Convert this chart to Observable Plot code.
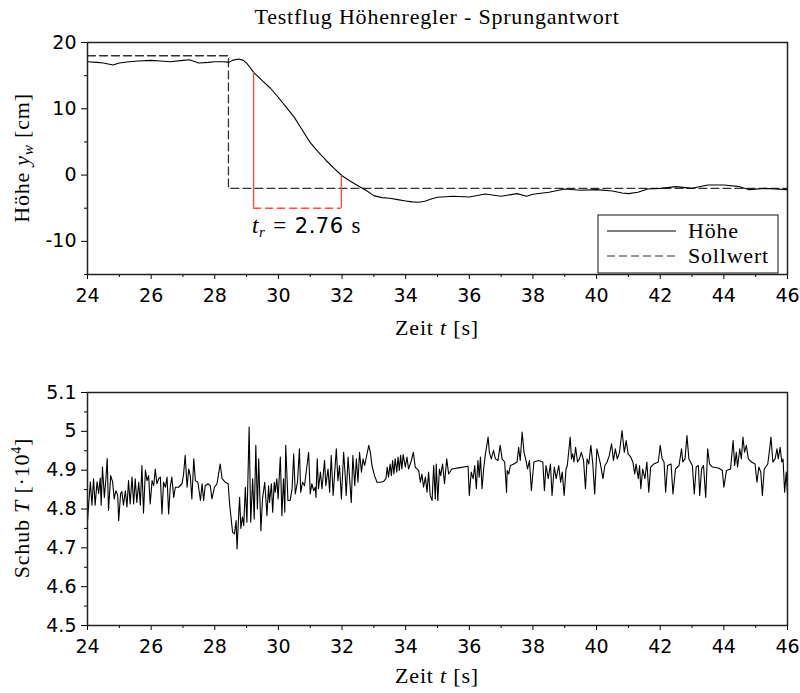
<!DOCTYPE html>
<html><head><meta charset="utf-8">
<script src="https://cdn.jsdelivr.net/npm/d3@7"></script>
<script src="https://cdn.jsdelivr.net/npm/@observablehq/plot@0.6"></script>
<style>
body{margin:0;background:#fff;}
#wrap{position:relative;width:800px;height:693px;}
#wrap svg{position:absolute;left:0;}
</style></head><body><div id="wrap"></div>
<script>
const title = "Testflug Höhenregler - Sprungantwort";
const xMajor = [24,26,28,30,32,34,36,38,40,42,44,46];
const xMinor = [25,27,29,31,33,35,37,39,41,43,45];
const yTopMajor = [-10,0,10,20];
const yTopMinor = [-15,-5,5,15];
const yBotMajor = [4.5,4.6,4.7,4.8,4.9,5,5.1];
const yBotMinor = [4.55,4.65,4.75,4.85,4.95,5.05];
const legendNames = ["Höhe","Sollwert"];

// Höhe (cm)
const hoeheT = [24.0,24.3,24.5,24.8,25.0,25.3,25.6,26.0,26.3,26.6,27.0,27.2,27.5,27.8,28.0,28.3,28.45,28.55,28.75,28.9,29.0,29.1,29.22,29.5,29.75,30.0,30.25,30.5,30.75,31.0,31.25,31.5,31.75,32.0,32.25,32.5,32.75,33.0,33.25,33.5,33.75,34.0,34.2,34.4,34.6,34.8,35.0,35.5,36.0,36.5,37.0,37.5,37.8,38.0,38.5,39.0,39.5,40.0,40.5,40.8,41.0,41.3,41.6,42.0,42.5,43.0,43.5,44.0,44.5,44.8,45.3,45.6,46.0];
const hoeheV = [17.1,17.0,16.9,16.6,16.9,17.1,17.2,17.3,17.2,17.1,17.3,17.4,16.9,17.0,17.1,17.1,17.0,17.3,17.5,17.3,16.9,16.3,15.5,14.2,13.1,11.7,10.2,8.7,6.8,4.9,3.5,2.2,1.0,-0.1,-0.9,-1.6,-2.3,-3.1,-3.4,-3.5,-3.7,-3.9,-4.05,-4.1,-3.95,-3.6,-3.35,-3.2,-3.3,-2.85,-3.2,-2.8,-3.2,-2.9,-2.6,-2.1,-2.3,-2.2,-2.4,-2.7,-2.8,-2.6,-2.1,-2.0,-1.75,-2.0,-1.5,-1.5,-1.75,-2.2,-2.0,-2.1,-2.2];
// Sollwert (cm)
const sollT = [24, 28.43, 28.43, 46];
const sollV = [18, 18, -2, -2];
// Anstiegszeit
const riseStart = 29.22, riseEnd = 31.98, riseLow = -5;
const riseStartV = 15.5, riseEndV = -0.1;
const riseLabel = "2.76";

// Schub (·10^4)
const schubT = [24.00,24.09,24.14,24.19,24.24,24.30,24.35,24.40,24.43,24.47,24.53,24.58,24.62,24.66,24.73,24.79,24.84,24.89,24.95,24.98,25.04,25.08,25.13,25.19,25.24,25.29,25.34,25.40,25.45,25.50,25.55,25.61,25.66,25.71,25.76,25.82,25.87,25.92,25.97,26.03,26.08,26.13,26.18,26.24,26.29,26.34,26.39,26.45,26.50,26.55,26.60,26.65,26.71,26.76,26.86,26.97,27.02,27.07,27.13,27.18,27.23,27.28,27.34,27.39,27.47,27.55,27.60,27.65,27.70,27.79,27.86,27.91,27.99,28.07,28.17,28.23,28.33,28.42,28.47,
28.56,28.62,28.67,28.70,28.75,28.78,28.82,28.87,28.91,28.96,29.01,29.08,29.13,29.19,29.24,29.29,29.34,29.38,29.45,29.50,29.57,29.64,29.69,29.72,29.78,29.82,29.87,29.90,29.95,29.99,30.06,30.11,30.16,30.20,30.23,30.30,30.37,30.43,30.48,30.53,30.60,30.66,30.70,30.76,30.82,30.95,31.00,31.05,31.11,31.16,31.18,31.22,31.26,31.32,31.37,31.45,31.49,31.56,31.61,31.66,31.72,31.82,31.87,31.92,31.98,32.05,32.10,32.13,32.19,32.29,32.34,32.40,32.45,32.50,32.55,32.61,32.66,32.71,32.84,
32.89,32.94,33.02,33.10,33.20,33.31,33.38,33.42,33.46,33.51,33.55,33.59,33.63,33.67,33.72,33.76,33.80,33.84,33.88,33.92,33.99,34.04,34.09,34.18,34.24,34.30,34.41,34.46,34.51,34.56,34.62,34.67,34.72,34.77,34.83,34.88,34.93,34.96,35.01,35.06,35.10,35.16,35.22,35.29,35.35,35.45,35.66,35.96,36.00,36.06,36.12,36.17,36.22,36.27,36.31,36.35,36.40,36.45,36.50,36.59,36.63,36.69,36.76,36.82,36.90,36.97,37.03,37.11,37.17,
37.19,37.24,37.29,37.40,37.50,37.55,37.60,37.66,37.72,37.78,37.83,37.89,37.95,38.03,38.18,38.31,38.36,38.41,38.48,38.55,38.60,38.67,38.73,38.81,38.87,38.92,38.98,39.04,39.08,39.17,39.21,39.25,39.29,39.34,39.40,39.46,39.52,39.59,39.65,39.70,39.755,39.82,39.88,39.94,40.01,40.07,40.12,40.20,40.26,40.33,40.40,40.47,40.53,40.59,40.65,40.72,40.80,40.87,40.93,40.99,41.07,41.14,41.20,41.24,41.31,41.35,41.39,41.45,41.52,41.58,41.64,
41.70,41.80,41.94,42.00,42.06,42.12,42.17,42.23,42.34,42.40,42.48,42.59,42.67,42.71,42.78,42.84,42.90,43.01,43.07,43.13,43.20,43.24,43.30,43.36,43.43,43.49,43.55,43.64,43.85,43.95,44.00,44.08,44.21,44.29,44.34,44.39,44.43,44.50,44.55,44.60,44.65,44.705,44.77,44.87,44.98,45.04,45.10,45.16,45.21,45.27,45.38,45.44,45.48,45.54,45.61,45.67,45.71,45.77,45.82,45.86,45.91,45.96,46.00];
const schubV = [4.77,4.87,4.81,4.878,4.81,4.87,4.84,4.88,4.81,4.908,4.83,4.88,4.93,4.796,4.886,4.869,4.826,4.847,4.835,4.77,4.839,4.845,4.81,4.847,4.805,4.873,4.813,4.882,4.813,4.878,4.817,4.869,4.81,4.912,4.79,4.90,4.873,4.886,4.813,4.873,4.86,4.903,4.865,4.878,4.882,4.787,4.869,4.856,4.882,4.787,4.856,4.882,4.83,4.856,4.856,4.865,4.89,4.938,4.856,4.903,4.886,4.826,4.929,4.873,4.869,4.822,4.865,4.822,4.86,4.865,4.86,4.826,4.856,4.865,4.916,4.878,4.869,4.865,4.81,
4.74,4.736,4.77,4.697,4.783,4.83,4.75,4.78,4.757,4.856,4.766,5.011,4.766,4.878,4.774,4.964,4.80,4.929,4.744,4.826,4.869,4.783,4.86,4.817,4.865,4.792,4.869,4.843,4.878,4.826,4.934,4.783,4.878,4.792,4.964,4.822,4.822,4.852,4.942,4.839,4.87,4.955,4.843,4.869,4.86,4.946,4.839,4.865,4.847,4.856,4.83,4.929,4.852,4.895,4.852,4.925,4.86,4.903,4.843,4.938,4.835,4.955,4.873,4.912,4.826,4.946,4.886,4.835,4.934,4.817,4.938,4.86,4.929,4.869,4.946,4.895,4.929,4.912,4.964,
4.946,4.912,4.886,4.869,4.869,4.871,4.878,4.908,4.882,4.916,4.886,4.925,4.89,4.929,4.895,4.934,4.899,4.938,4.903,4.94,4.908,4.934,4.903,4.925,4.946,4.908,4.899,4.869,4.89,4.856,4.882,4.843,4.895,4.835,4.822,4.912,4.826,4.916,4.822,4.903,4.886,4.916,4.865,4.929,4.89,4.903,4.906,4.91,4.835,4.895,4.878,4.912,4.852,4.925,4.882,4.934,4.852,4.903,4.938,4.985,4.946,4.929,4.951,4.929,4.925,4.964,4.929,4.921,4.843,
4.899,4.89,4.912,4.916,4.921,4.959,4.925,4.998,4.946,4.925,4.903,4.925,4.847,4.921,4.925,4.921,4.847,4.912,4.878,4.916,4.835,4.908,4.878,4.912,4.869,4.895,4.835,4.903,4.912,4.985,4.929,4.942,4.921,4.959,4.921,4.929,4.946,4.925,4.852,4.929,4.916,4.964,4.916,4.839,4.955,4.934,4.916,4.878,4.912,4.921,4.938,4.968,4.925,4.955,4.929,4.946,5.002,4.946,4.976,4.942,4.934,4.921,4.89,4.916,4.878,4.912,4.852,4.903,4.878,4.921,4.843,
4.908,4.916,4.921,4.964,4.929,4.921,4.843,4.912,4.916,4.839,4.903,4.912,4.955,4.921,4.929,4.989,4.929,4.912,4.839,4.908,4.912,4.835,4.903,4.912,4.83,4.955,4.916,4.908,4.905,4.899,4.856,4.899,4.903,4.976,4.912,4.946,4.908,4.955,4.929,4.985,4.946,4.964,4.929,4.921,4.916,4.869,4.908,4.895,4.835,4.903,4.916,4.955,4.985,4.921,4.929,4.955,4.929,4.959,4.921,4.929,4.843,4.895,4.84];

const hoehe = hoeheT.map((t,i)=>({t, v: hoeheV[i]}));
const soll = sollT.map((t,i)=>({t, v: sollV[i]}));
const schub = schubT.map((t,i)=>({t, v: schubV[i]}));

const SERIF = "'Liberation Serif', 'DejaVu Serif', serif";
const SANS = "'DejaVu Sans', sans-serif";
const W = 800, ML = 87, MR = 13;
const fmt = d => String(d);

function axes(yMajor, yMinor) {
  return [
    Plot.axisX(xMajor, {tickSize: 5, tickPadding: 9, tickFormat: fmt, label: null, fontSize: 19}),
    Plot.axisX(xMinor, {tickSize: 3, tickFormat: () => "", label: null}),
    Plot.axisY(yMajor, {tickSize: 6, tickPadding: 5, tickFormat: fmt, label: null, fontSize: 19}),
    Plot.axisY(yMinor, {tickSize: 3, tickFormat: () => "", label: null})
  ];
}

const topH = 350, topMT = 42, topMB = 76;
const topPlot = Plot.plot({
  width: W, height: topH, marginTop: topMT, marginBottom: topMB, marginLeft: ML, marginRight: MR,
  style: {fontFamily: SANS, fontSize: "19px", color: "#000", background: "transparent"},
  x: {domain: [24, 46]},
  y: {domain: [-15, 20]},
  marks: [
    ...axes(yTopMajor, yTopMinor),
    Plot.line(soll, {x: "t", y: "v", stroke: "#333", strokeWidth: 1.3, strokeDasharray: "8,4"}),
    Plot.line(hoehe, {x: "t", y: "v", stroke: "#000", strokeWidth: 1.1}),
    Plot.ruleX([riseStart], {y1: riseLow, y2: riseStartV, stroke: "#ff4a4a", strokeWidth: 1.4}),
    Plot.ruleX([riseEnd], {y1: riseLow, y2: riseEndV, stroke: "#ff4a4a", strokeWidth: 1.4}),
    Plot.ruleY([riseLow], {x1: riseStart, x2: riseEnd, stroke: "#ff4a4a", strokeWidth: 1.4, strokeDasharray: "8,4"}),
    Plot.frame({stroke: "#222", strokeWidth: 1.5})
  ]
});

const botH = 343, botMT = 42, botMB = 68;
const botPlot = Plot.plot({
  width: W, height: botH, marginTop: botMT, marginBottom: botMB, marginLeft: ML, marginRight: MR,
  style: {fontFamily: SANS, fontSize: "19px", color: "#000", background: "transparent"},
  x: {domain: [24, 46]},
  y: {domain: [4.5, 5.1]},
  marks: [
    ...axes(yBotMajor, yBotMinor),
    Plot.line(schub, {x: "t", y: "v", stroke: "#000", strokeWidth: 1.1}),
    Plot.frame({stroke: "#222", strokeWidth: 1.5})
  ]
});

const wrap = document.getElementById("wrap");
topPlot.style.top = "0px";
botPlot.style.top = topH + "px";
wrap.appendChild(topPlot);
wrap.appendChild(botPlot);

function richText(svg, x, y, parts, opts = {}) {
  const t = d3.select(svg).append("text")
    .attr("x", x).attr("y", y)
    .attr("text-anchor", opts.anchor || "middle")
    .attr("font-family", SERIF)
    .attr("font-size", opts.size || 22)
    .attr("letter-spacing", opts.spacing != null ? opts.spacing : 0.8)
    .attr("fill", "#000");
  if (opts.rotate) t.attr("transform", `rotate(${opts.rotate},${x},${y})`);
  for (const p of parts) {
    const s = t.append("tspan").text(p.text);
    if (p.italic) s.attr("font-style", "italic");
    if (p.font) s.attr("font-family", p.font);
    if (p.size) s.attr("font-size", p.size);
    if (p.dy) s.attr("dy", p.dy);
    if (p.dx) s.attr("dx", p.dx);
  }
  return t;
}

const cx = ML + (W - ML - MR) / 2;
// Title
richText(topPlot, cx, 24, [{text: title}], {size: 22});
// X labels
const xLab = [{text: "Zeit "}, {text: "t", italic: true}, {text: " [s]"}];
richText(topPlot, cx, 335, xLab, {size: 22});
richText(botPlot, cx, 333, xLab, {size: 22});
// Y labels
richText(topPlot, 29, 158, [{text: "Höhe "}, {text: "y", italic: true}, {text: "w", italic: true, size: 15, dy: 4}, {text: " [cm]", dy: -4}], {rotate: -90, size: 22});
richText(botPlot, 29, 158, [{text: "Schub "}, {text: "T", italic: true}, {text: " [·10"}, {text: "4", size: 14, dy: -8}, {text: "]", dy: 8}], {rotate: -90, size: 22});

// Rise-time annotation
const sx = topPlot.scale("x"), sy = topPlot.scale("y");
richText(topPlot, sx.apply(riseStart) - 1, sy.apply(riseLow) + 25,
  [{text: "t", italic: true}, {text: "r", italic: true, size: 15, dy: 4}, {text: "=", dy: -4, dx: 8}, {text: riseLabel, font: SANS, size: 21, dx: 8}, {text: "s", dx: 8}],
  {anchor: "start", size: 23, spacing: 0.5});

// Legend
const fx1 = W - MR, fy1 = topH - topMB;
const lg = d3.select(topPlot).append("g");
const lx = fx1 - 189, ly = fy1 - 59;
lg.append("rect").attr("x", lx).attr("y", ly).attr("width", 180).attr("height", 58)
  .attr("fill", "white").attr("stroke", "#111").attr("stroke-width", 1);
const styles = [{dash: null, stroke: "#000"}, {dash: "8,4", stroke: "#333"}];
legendNames.forEach((name, i) => {
  const yy = ly + 16 + i * 25;
  lg.append("line").attr("x1", lx + 9).attr("x2", lx + 78).attr("y1", yy).attr("y2", yy)
    .attr("stroke", styles[i].stroke).attr("stroke-width", 1.2)
    .attr("stroke-dasharray", styles[i].dash);
  richText(topPlot, lx + 90, yy + 7, [{text: name}], {anchor: "start", size: 22});
});
</script></body></html>
